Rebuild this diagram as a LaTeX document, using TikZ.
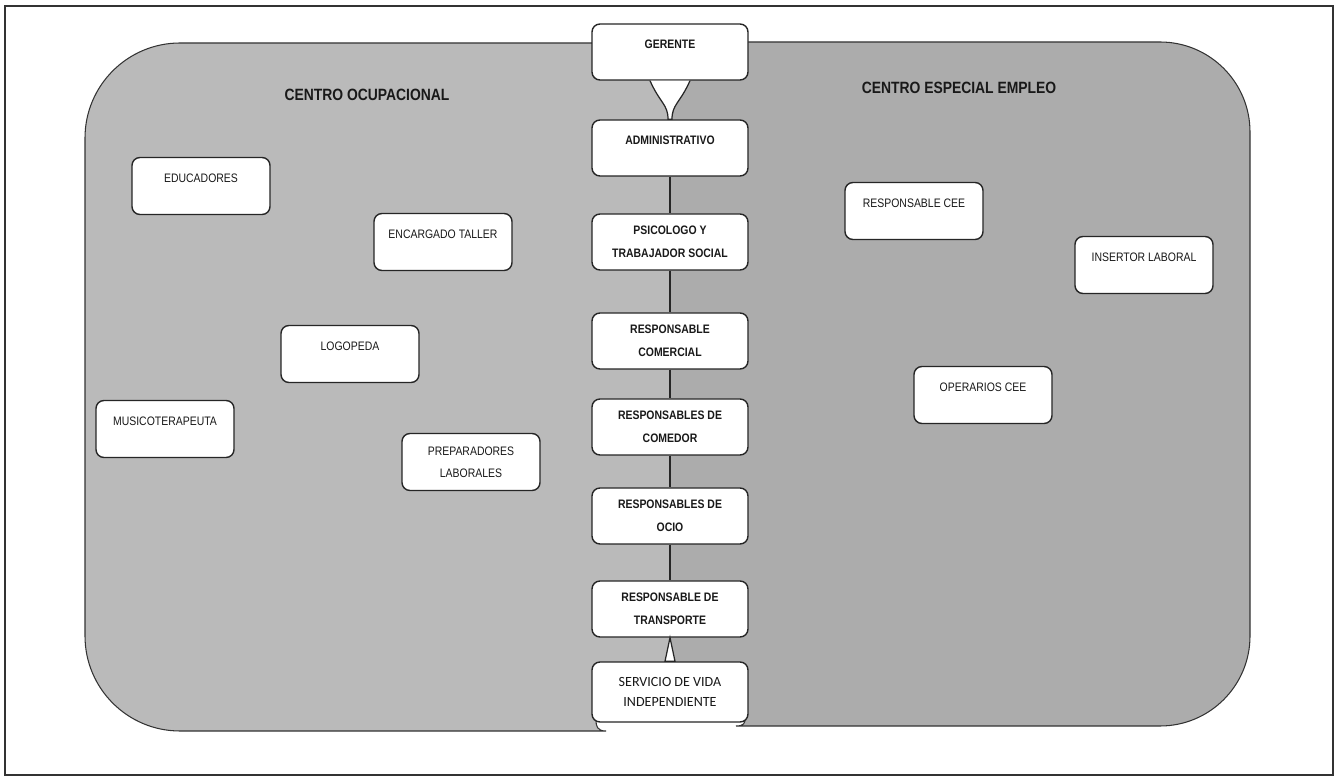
\documentclass[tikz,border=0pt]{standalone}
\usepackage{fontspec}
\setmainfont{Liberation Sans}
\newfontfamily\cargofont{Liberation Sans}[FakeStretch=0.85]
\newfontfamily\vidafont{Carlito}
\definecolor{ocgris}{RGB}{186,186,186}
\definecolor{ceegris}{RGB}{172,172,172}

\begin{document}
\begin{tikzpicture}[x=0.2mm, y=-0.2mm,
  cargo/.style={draw=black!85, line width=0.8pt, fill=white, rounded corners=0.16cm,
    minimum width=2.76cm, minimum height=1.14cm, inner sep=1pt,
    font=\cargofont\fontsize{7}{8.5}\selectfont, text=black!90},
  arriba/.style={text height=6pt, text depth=10pt},
  eje/.style={cargo, minimum width=3.12cm, minimum height=1.12cm,
    font=\cargofont\bfseries\fontsize{7}{9}\selectfont},
  titulo/.style={font=\cargofont\bfseries\fontsize{9.3}{11}\selectfont, text=black!90}]
\useasboundingbox (0,0) rectangle (1338,778);
\draw [black!80, line width=0.6pt] (5,6) rectangle (1333,775);

% the two centres
\fill [ocgris] (670,43) [rounded corners=1.9cm] -- (85,43) -- (85,731) [sharp corners]
  -- (606,731) .. controls (597,731) and (596,726) .. (596,720) -- (670,720) -- cycle;
\draw [black!80, line width=0.6pt] (670,43) [rounded corners=1.9cm] -- (85,43) -- (85,731) [sharp corners]
  -- (606,731) .. controls (597,731) and (596,726) .. (596,720);
\fill [ceegris] (670,42) [rounded corners=1.8cm] -- (1250,42) -- (1250,726) [sharp corners]
  -- (736,726) .. controls (744,726) and (745,723) .. (745,719) -- (670,719) -- cycle;
\draw [black!80, line width=0.6pt] (670,42) [rounded corners=1.8cm] -- (1250,42) -- (1250,726) [sharp corners]
  -- (736,726) .. controls (744,726) and (745,723) .. (745,719);

\node [titulo] (ocu) at (367,95) {CENTRO OCUPACIONAL};
\node [titulo] (cee) at (959,88) {CENTRO ESPECIAL EMPLEO};

% central column
\node [eje, arriba] (ger) at (670,52) {GERENTE};
\node [eje, arriba] (adm) at (670,148) {ADMINISTRATIVO};
\node [eje, align=center] (psi) at (670,242) {PSICOLOGO Y\\[4pt]TRABAJADOR SOCIAL};
\node [eje, align=center] (com) at (670,341) {RESPONSABLE\\[4pt]COMERCIAL};
\node [eje, align=center] (come) at (670,427) {RESPONSABLES DE\\[4pt]COMEDOR};
\node [eje, align=center] (ocio) at (670,516) {RESPONSABLES DE\\[4pt]OCIO};
\node [eje, align=center] (tra) at (670,609) {RESPONSABLE DE\\[4pt]TRANSPORTE};
\node [eje, align=center, minimum height=1.2cm, font=\vidafont\fontsize{8}{10}\selectfont] (ser) at (670,692) {SERVICIO DE VIDA\\[1pt]INDEPENDIENTE};

\foreach \a/\b in {adm/psi, psi/com, com/come, come/ocio, ocio/tra}
  \draw [black!85, line width=0.8pt] (\a) -- (\b);

\draw [black!85, line width=0.7pt, fill=white] ([xshift=-0.4cm]ger.south)
  .. controls +(0.2cm,-0.45cm) and +(0,0.3cm) .. ([xshift=-0.04cm]adm.north)
  -- ([xshift=0.04cm]adm.north)
  .. controls +(0,0.3cm) and +(-0.2cm,-0.45cm) .. ([xshift=0.4cm]ger.south);
\draw [black!85, line width=0.7pt, fill=white] (tra.south) -- ([xshift=-0.1cm]ser.north)
  -- ([xshift=0.1cm]ser.north) -- cycle;

% centro ocupacional
\node [cargo, arriba] (edu) at (201,186) {EDUCADORES};
\node [cargo, arriba] (tal) at (443,242) {ENCARGADO TALLER};
\node [cargo, arriba] (logo) at (350,354) {LOGOPEDA};
\node [cargo, arriba] (musi) at (165,429) {MUSICOTERAPEUTA};
\node [cargo, align=center] (prep) at (471,462) {PREPARADORES\\[4pt]LABORALES};

% centro especial empleo
\node [cargo, arriba] (rcee) at (914,211) {RESPONSABLE CEE};
\node [cargo, arriba] (ins) at (1144,265) {INSERTOR LABORAL};
\node [cargo, arriba] (oper) at (983,395) {OPERARIOS CEE};
\end{tikzpicture}
\end{document}
